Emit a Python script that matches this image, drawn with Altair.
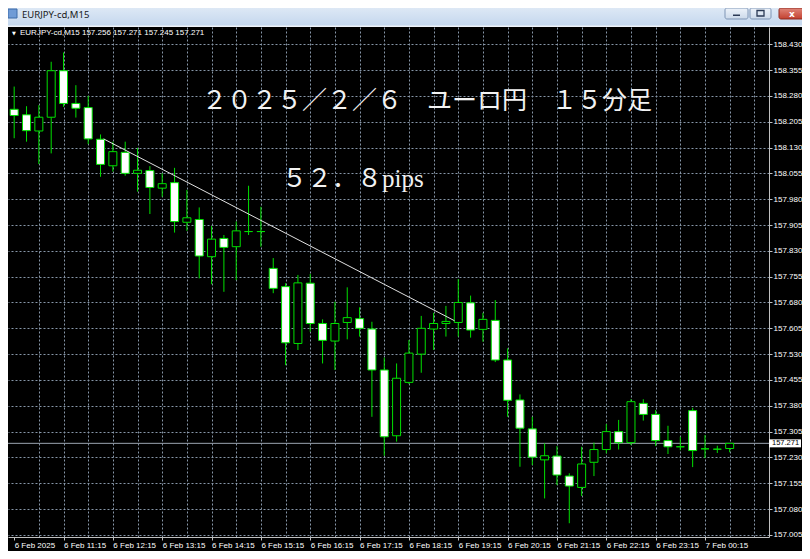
import json
import altair as alt
import pandas as pd

# ---------------- data ----------------
opens = [158.241, 158.225, 158.178, 158.218, 158.353, 158.258, 158.246, 158.154, 158.077, 158.116,
         158.055, 158.063, 158.012, 158.028, 157.913, 157.921, 157.813, 157.866, 157.842, 157.886,
         157.886, 157.779, 157.726, 157.561, 157.736, 157.619, 157.568, 157.622, 157.633, 157.603,
         157.484, 157.293, 157.448, 157.530, 157.603, 157.619, 157.622, 157.679, 157.602, 157.628,
         157.513, 157.397, 157.313, 157.223, 157.234, 157.176, 157.143, 157.216, 157.253, 157.305,
         157.273, 157.387, 157.355, 157.279, 157.261, 157.366, 157.255, 157.254, 157.256]
highs = [158.307, 158.250, 158.253, 158.379, 158.406, 158.311, 158.280, 158.168, 158.147, 158.147,
         158.129, 158.076, 158.055, 158.071, 158.007, 157.956, 157.902, 157.876, 157.915, 158.019,
         157.958, 157.809, 157.736, 157.760, 157.763, 157.631, 157.682, 157.724, 157.666, 157.624,
         157.520, 157.503, 157.571, 157.641, 157.650, 157.670, 157.748, 157.700, 157.650, 157.687,
         157.547, 157.413, 157.348, 157.271, 157.263, 157.184, 157.261, 157.273, 157.327, 157.339,
         157.399, 157.399, 157.368, 157.322, 157.290, 157.374, 157.295, 157.264, 157.271]
lows = [158.157, 158.147, 158.082, 158.113, 158.248, 158.217, 158.140, 158.045, 158.060, 158.048,
        158.002, 157.937, 157.987, 157.883, 157.888, 157.750, 157.733, 157.711, 157.745, 157.876,
        157.842, 157.707, 157.498, 157.542, 157.595, 157.503, 157.484, 157.573, 157.581, 157.348,
        157.235, 157.276, 157.443, 157.476, 157.542, 157.581, 157.581, 157.578, 157.566, 157.507,
        157.348, 157.203, 157.208, 157.111, 157.150, 157.039, 157.118, 157.176, 157.242, 157.253,
        157.266, 157.337, 157.263, 157.240, 157.251, 157.202, 157.228, 157.243, 157.245]
closes = [158.223, 158.179, 158.218, 158.353, 158.258, 158.244, 158.155, 158.081, 158.118, 158.055,
          158.064, 158.014, 158.025, 157.915, 157.926, 157.815, 157.864, 157.840, 157.888, 157.886,
          157.886, 157.721, 157.563, 157.737, 157.619, 157.570, 157.619, 157.636, 157.605, 157.484,
          157.290, 157.460, 157.533, 157.605, 157.619, 157.625, 157.680, 157.600, 157.631, 157.513,
          157.396, 157.315, 157.231, 157.235, 157.179, 157.147, 157.211, 157.253, 157.305, 157.273,
          157.392, 157.355, 157.279, 157.261, 157.261, 157.250, 157.255, 157.254, 157.271]

y_ticks = [157.005, 157.080, 157.155, 157.230, 157.305, 157.380, 157.455, 157.530, 157.605, 157.680,
           157.755, 157.830, 157.905, 157.980, 158.055, 158.130, 158.205, 158.280, 158.355, 158.430]
time_labels = ["6 Feb 2025", "6 Feb 11:15", "6 Feb 12:15", "6 Feb 13:15", "6 Feb 14:15",
               "6 Feb 15:15", "6 Feb 16:15", "6 Feb 17:15", "6 Feb 18:15", "6 Feb 19:15",
               "6 Feb 20:15", "6 Feb 21:15", "6 Feb 22:15", "6 Feb 23:15", "7 Feb 00:15"]
time_label_pos = [0, 4, 8, 12, 16, 20, 24, 28, 32, 36, 40, 44, 48, 52, 56]
grid_x = [2, 4, 6, 8, 10, 12, 14, 16, 18, 20, 22, 24, 26, 28, 30, 32, 34, 36, 38, 40,
          42, 44, 46, 48, 50, 52, 54, 56, 58, 60]

trend_x = [7.25, 35.7]
trend_y = [158.155, 157.627]
last_price = [157.271]
window_title = "EURJPY-cd,M15"
header_text = "EURJPY-cd,M15  157.256 157.271 157.245 157.271"
title_text = "２０２５／２／６　ユーロ円　１５分足"
pips_text = "５２．８pips"

# ---------------- styling ----------------
W, H = 761, 510
GREEN = "#00e000"
GRID = "#8796a8"
AXIS = "#c0c0c0"
FONT = "Liberation Sans"
JP_FONT = "Liberation Serif, Noto Sans CJK JP"

df = pd.DataFrame({"i": list(range(len(opens))), "open": opens, "high": highs,
                   "low": lows, "close": closes})
df["dir"] = ["bull" if c > o else "bear" for o, c in zip(opens, closes)]

label_arr = [""] * 61
for p, lab in zip(time_label_pos, time_labels):
    label_arr[p] = lab

x_scale = alt.Scale(domain=[-0.096, 60.784], nice=False, zero=False)
y_scale = alt.Scale(domain=[156.999, 158.480], nice=False, zero=False)

x_axis = alt.Axis(
    values=[0] + grid_x, title=None, orient="bottom",
    labelExpr=json.dumps(label_arr) + "[datum.value]",
    labelColor="white", labelFont=FONT, labelFontSize=8, labelAlign="left",
    labelPadding=1, labelOverlap=False, labelFlush=False, labelBound=False,
    domainColor=AXIS, domainWidth=1, tickColor=AXIS, tickSize=3,
    tickOpacity={"condition": {"test": "datum.value % 4 == 0 && datum.value <= 56", "value": 1}, "value": 0},
    grid=True, gridColor=GRID, gridDash=[2, 2], gridWidth=1,
    gridOpacity={"condition": {"test": "datum.value > 0", "value": 1}, "value": 0},
)
y_axis = alt.Axis(
    values=y_ticks, format=".3f", title=None, orient="right",
    labelColor="white", labelFont=FONT, labelFontSize=8, labelPadding=1,
    labelOverlap=False, labelFlush=False, labelBound=False,
    domainColor=AXIS, domainWidth=1, tickColor=AXIS, tickSize=3,
    grid=True, gridColor=GRID, gridDash=[2, 2], gridWidth=1,
)


def X(field):
    return alt.X(field, type="quantitative", scale=x_scale, axis=x_axis)


def Y(field):
    return alt.Y(field, type="quantitative", scale=y_scale, axis=y_axis)


one = pd.DataFrame({"k": [0]})

# window chrome (title bar and buttons), outside the plot area
titlebar = alt.Chart(one).mark_rect(
    color=alt.Gradient(gradient="linear", x1=0, x2=0, y1=0, y2=1,
                       stops=[alt.GradientStop(color="#dde8f5", offset=0),
                              alt.GradientStop(color="#c4d7ee", offset=1)])
).encode(x=alt.value(0), x2=alt.value(794), y=alt.value(-19), y2=alt.value(-1))
frame_line = alt.Chart(one).mark_rect(color="#eef3fa").encode(
    x=alt.value(0), x2=alt.value(794), y=alt.value(-1.5), y2=alt.value(0))
icon = alt.Chart(one).mark_rect(color="#6f9bd6", stroke="#3d6aa8", strokeWidth=1).encode(
    x=alt.value(0), x2=alt.value(9), y=alt.value(-18), y2=alt.value(-9))
win_text = alt.Chart(pd.DataFrame({"t": [window_title]})).mark_text(
    align="left", baseline="middle", fontSize=9.5, font="Noto Sans", color="#1a1a1a"
).encode(x=alt.value(14), y=alt.value(-12.5), text="t:N")

btn_light = alt.Gradient(gradient="linear", x1=0, x2=0, y1=0, y2=1,
                         stops=[alt.GradientStop(color="#eef3fa", offset=0),
                                alt.GradientStop(color="#cbd9ea", offset=1)])
btn_red = alt.Gradient(gradient="linear", x1=0, x2=0, y1=0, y2=1,
                       stops=[alt.GradientStop(color="#e0877a", offset=0),
                              alt.GradientStop(color="#c3402f", offset=1)])
btn_min = alt.Chart(one).mark_rect(color=btn_light, stroke="#7e95b5", strokeWidth=1,
                                   cornerRadius=2).encode(
    x=alt.value(717), x2=alt.value(740), y=alt.value(-19), y2=alt.value(-8))
btn_max = alt.Chart(one).mark_rect(color=btn_light, stroke="#7e95b5", strokeWidth=1,
                                   cornerRadius=2).encode(
    x=alt.value(742), x2=alt.value(763), y=alt.value(-19), y2=alt.value(-8))
btn_close = alt.Chart(one).mark_rect(color=btn_red, stroke="#8d2a20", strokeWidth=1,
                                     cornerRadius=2).encode(
    x=alt.value(771), x2=alt.value(798), y=alt.value(-19), y2=alt.value(-8))
glyph_min = alt.Chart(one).mark_rect(color="#2b3a55").encode(
    x=alt.value(725), x2=alt.value(732), y=alt.value(-12.5), y2=alt.value(-11))
glyph_max = alt.Chart(one).mark_rect(fill="transparent", stroke="#2b3a55", strokeWidth=1.3).encode(
    x=alt.value(749), x2=alt.value(756), y=alt.value(-16.5), y2=alt.value(-11))
glyph_close = alt.Chart(pd.DataFrame({"t": ["x"]})).mark_text(
    fontSize=9, fontWeight="bold", font="DejaVu Sans", color="white", baseline="middle"
).encode(x=alt.value(784), y=alt.value(-13), text="t:N")

# price line (behind candles)
price_rule = alt.Chart(pd.DataFrame({"p": last_price})).mark_rule(
    color="#9aa4b0", strokeWidth=1).encode(y=Y("p"))

wicks = alt.Chart(df).mark_rule(color=GREEN, strokeWidth=1, clip=True).encode(
    x=X("i"), y=Y("low"), y2="high")
bodies = alt.Chart(df).mark_bar(size=8, stroke=GREEN, strokeWidth=1, clip=True).encode(
    x=X("i"), y=Y("open"), y2="close",
    fill=alt.Fill("dir:N", scale=alt.Scale(domain=["bear", "bull"], range=["#ffffff", "#000000"]),
                  legend=None))

trend = alt.Chart(pd.DataFrame({"tx": trend_x, "ty": trend_y})).mark_line(
    color="#e0e0e0", strokeWidth=1).encode(x=X("tx"), y=Y("ty"))

price_box = alt.Chart(pd.DataFrame({"p": last_price})).mark_rect(
    color="white", yOffset=-4, y2Offset=4).encode(
    x=alt.value(761), x2=alt.value(793), y=Y("p"), y2="p")
price_txt = alt.Chart(pd.DataFrame({"p": last_price})).mark_text(
    align="left", baseline="middle", fontSize=7.5, font=FONT, color="black").encode(
    x=alt.value(764), y=Y("p"), text=alt.Text("p:Q", format=".3f"))

header_tri = alt.Chart(pd.DataFrame({"t": ["▼"]})).mark_text(
    align="left", baseline="middle", fontSize=5, font="DejaVu Sans", color="white").encode(
    x=alt.value(4), y=alt.value(5.5), text="t:N")
header = alt.Chart(pd.DataFrame({"t": [header_text]})).mark_text(
    align="left", baseline="middle", fontSize=8, font=FONT, color="white").encode(
    x=alt.value(12), y=alt.value(5.5), text="t:N")

title_mark = alt.Chart(pd.DataFrame({"t": [title_text]})).mark_text(
    align="left", baseline="middle", fontSize=25, font=JP_FONT, color="#f2f2f2").encode(
    x=alt.value(194), y=alt.value(74), text="t:N")
pips_mark = alt.Chart(pd.DataFrame({"t": [pips_text]})).mark_text(
    align="left", baseline="middle", fontSize=25, font=JP_FONT, color="#f2f2f2").encode(
    x=alt.value(274), y=alt.value(152), text="t:N")

chart = alt.layer(
    price_rule, wicks, bodies, trend, price_box, price_txt, header_tri, header,
    title_mark, pips_mark,
    titlebar, frame_line, icon, win_text, btn_min, btn_max, btn_close,
    glyph_min, glyph_max, glyph_close,
).properties(
    width=W, height=H,
    padding={"left": 0, "top": 19, "right": 33, "bottom": 14},
    autosize=alt.AutoSizeParams(type="none"),
).configure(background="#000000").configure_view(strokeWidth=0)

chart.save("out.html", embed_options={"renderer": "svg", "actions": False})
